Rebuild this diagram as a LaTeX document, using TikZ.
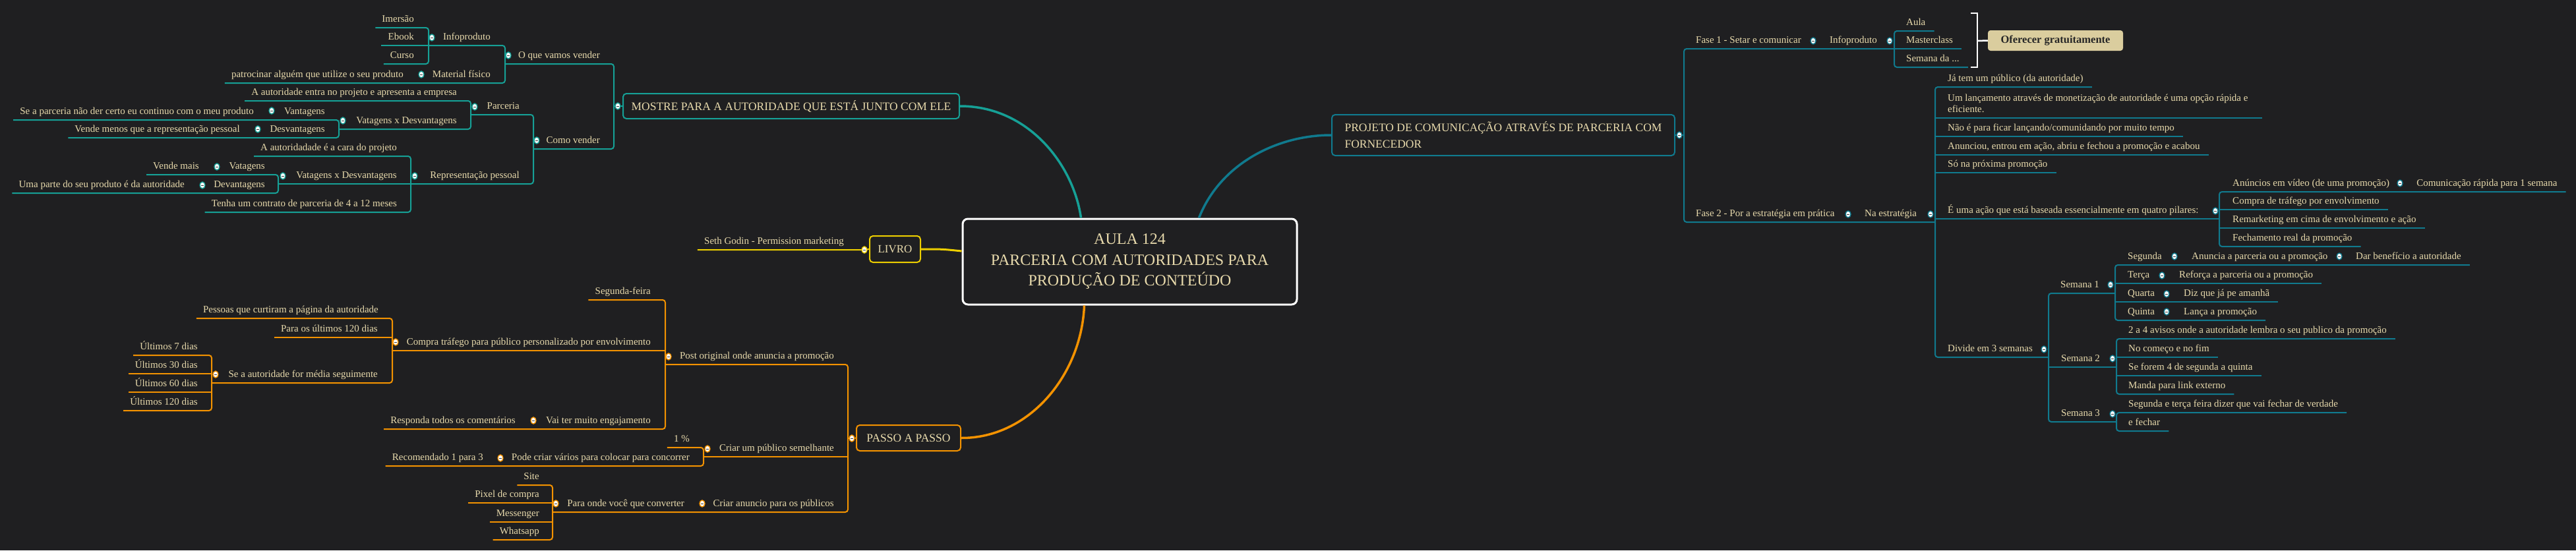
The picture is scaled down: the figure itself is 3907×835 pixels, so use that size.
\documentclass[tikz,border=0pt]{standalone}
\usepackage{fontspec}
\setmainfont{Liberation Serif}
\usetikzlibrary{calc,shapes.geometric}
\definecolor{bg}{RGB}{31,31,33}
\definecolor{fg}{RGB}{232,218,172}
\definecolor{cTL}{RGB}{22,160,150}
\definecolor{cTB}{RGB}{16,122,142}
\definecolor{cOR}{RGB}{243,146,0}
\definecolor{cYE}{RGB}{236,206,0}
\definecolor{cBEI}{RGB}{218,205,158}
\definecolor{cMin}{RGB}{60,60,60}
\newcommand\Lx[1]{($(#1.base west)+(-10,9)$)}
\newcommand\Rx[1]{($(#1.base east)+(13,9)$)}
\tikzset{
  txt/.style={text=fg, inner sep=0pt, font=\fontsize{15}{17}\selectfont},
  lt/.style={txt, anchor=base east},
  rt/.style={txt, anchor=base west},
  tl/.style={draw=cTL, line width=2pt},
  tb/.style={draw=cTB, line width=2pt},
  lorg/.style={draw=cOR, line width=2pt},
  lyel/.style={draw=cYE, line width=2pt},
  rc/.style={rounded corners=4pt},
  bigbox/.style={draw=#1, line width=2pt, rounded corners=5pt, fill=bg, text=fg,
     font=\fontsize{17.5}{25}\selectfont, inner xsep=12pt, inner ysep=0pt},
  knob/.style={ellipse, draw=#1, fill=white, line width=1.4pt, minimum width=8pt,
     minimum height=10pt, inner sep=0pt,
     path picture={\draw[cMin, line width=1pt]
       ([xshift=-2pt]path picture bounding box.center) -- ([xshift=2pt]path picture bounding box.center);}},
}
\begin{document}
\begin{tikzpicture}[x=1pt,y=-1pt]
\fill[bg] (0,0) rectangle (3907,835);
\useasboundingbox (0,0) rectangle (3907,835);

% ---------- main boxes ----------
\node[draw=white, line width=3pt, rounded corners=8pt, minimum width=507pt, minimum height=130pt,
      align=center, text=fg, font=\fontsize{24}{31.5}\selectfont, inner sep=0pt, fill=bg]
      (root) at (1713.5,397) {AULA 124\\PARCERIA COM AUTORIDADES PARA\\PRODUÇÃO DE CONTEÚDO};
\node[bigbox=cTL, minimum width=510pt, minimum height=38pt]
      (mostre) at (1200,161) {MOSTRE PARA A AUTORIDADE QUE ESTÁ JUNTO COM ELE};
\node[bigbox=cYE, minimum width=77pt, minimum height=40pt, inner xsep=0pt,
      font=\fontsize{17}{20}\selectfont] (livro) at (1357.5,378) {LIVRO};
\node[bigbox=cTB, minimum width=520pt, minimum height=62pt, align=left]
      (proj) at (2280,205) {PROJETO DE COMUNICAÇÃO ATRAVÉS DE PARCERIA COM\\FORNECEDOR};
\node[bigbox=cOR, minimum width=158pt, minimum height=39pt, inner xsep=0pt]
      (passo) at (1378,664.5) {PASSO A PASSO};
\node[fill=cBEI, rounded corners=4pt, minimum width=205pt, minimum height=31pt, inner sep=0pt,
      text=black!85, font=\bfseries\fontsize{16.5}{19}\selectfont] (ofer) at (3117.5,61.5) {Oferecer gratuitamente};

% ---------- main curves ----------
\draw[cTL, line width=3.5pt] (mostre.east) .. controls (1560,161) and (1628,250) .. ($(root.north west)+(181,0)$);
\draw[cTB, line width=3.5pt] ($(root.north west)+(360,0)$) .. controls (1850,250) and (1935,205) .. (proj.west);
\draw[cOR, line width=3.5pt] ($(root.south west)+(186,0)$) .. controls (1640,570) and (1560,665) .. (passo.east);
\draw[cYE, line width=3pt] (livro.east) .. controls (1430,378) .. ($(root.west)+(0,-16)$);

% ---------- LEFT (teal) ----------
\node[lt] (imersao) at (628,33) {Imersão};
\node[lt] (ebook) at (628,60) {Ebook};
\node[lt] (curso) at (628,88) {Curso};
\draw[tl, rc] \Lx{imersao} -- (650,42) -- (650,97) -- \Lx{curso};
\draw[tl] \Lx{ebook} -- (650,69);
\node[lt] (infop) at (744,60) {Infoproduto};
\node[lt] (patro) at (612,117) {patrocinar alguém que utilize o seu produto};
\node[lt] (matfis) at (744,117) {Material físico};
\draw[tl, rc] (650,69) -- (766,69) -- (766,126) -- \Lx{patro};
\node[lt] (oque) at (910,88) {O que vamos vender};
\node[lt] (comov) at (910,217) {Como vender};
\draw[tl, rc] (766,97) -- (931,97) -- (931,226) -- (809,226);
\draw[tl] (931,161) -- (mostre.west);

\node[lt] (autent) at (693,144) {A autoridade entra no projeto e apresenta a empresa};
\node[lt] (separc) at (385,173) {Se a parceria não der certo eu continuo com o meu produto};
\node[lt] (vant1) at (493,173) {Vantagens};
\node[lt] (vmenos) at (364,200) {Vende menos que a representação pessoal};
\node[lt] (desv1) at (493,200) {Desvantagens};
\draw[tl, rc] \Lx{separc} -- (514,182) -- (514,209) -- \Lx{vmenos};
\node[lt] (vxd1) at (693,187) {Vatagens x Desvantagens};
\draw[tl, rc] \Lx{autent} -- (714,153) -- (714,196) -- (514,196);
\node[lt] (parc) at (788,165) {Parceria};

\node[lt] (acara) at (602,228) {A autoridadade é a cara do projeto};
\node[lt] (vmais) at (302,256) {Vende mais};
\node[lt] (vat2) at (402,256) {Vatagens};
\node[lt] (umaparte) at (280,284) {Uma parte do seu produto é da autoridade};
\node[lt] (devant) at (402,284) {Devantagens};
\draw[tl, rc] \Lx{vmais} -- (422,265) -- (422,293) -- \Lx{umaparte};
\node[lt] (vxd2) at (602,270) {Vatagens x Desvantagens};
\node[lt] (tenha) at (602,313) {Tenha um contrato de parceria de 4 a 12 meses};
\draw[tl, rc] \Lx{acara} -- (623,237) -- (623,322) -- \Lx{tenha};
\draw[tl] (422,279) -- (623,279);
\node[lt] (repr) at (788,270) {Representação pessoal};
\draw[tl, rc] (714,174) -- (809,174) -- (809,279) -- (623,279);

% ---------- LIVRO (yellow) ----------
\node[lt] (seth) at (1280,370) {Seth Godin - Permission marketing};
\draw[lyel] \Lx{seth} -- (1311,379) -- (livro.west);

% ---------- PASSO A PASSO (orange) ----------
\node[lt] (post) at (1265,544) {Post original onde anuncia a promoção};
\node[lt] (criarpub) at (1265,684) {Criar um público semelhante};
\node[lt] (criaranu) at (1265,768) {Criar anuncio para os públicos};
\draw[lorg, rc] (1009,553) -- (1286,553) -- (1286,777) -- (838,777);
\draw[lorg] (1067,693) -- (1286,693);
\draw[lorg] (1286,665) -- (passo.west);

\node[lt] (segfeira) at (987,446) {Segunda-feira};
\node[lt] (compra) at (987,523) {Compra tráfego para público personalizado por envolvimento};
\node[lt] (vaiter) at (987,642) {Vai ter muito engajamento};
\node[lt] (responda) at (782,642) {Responda todos os comentários};
\draw[lorg, rc] \Lx{segfeira} -- (1009,455) -- (1009,651) -- \Lx{responda};
\draw[lorg] (595,532) -- (1009,532);

\node[lt] (pessoas) at (574,474) {Pessoas que curtiram a página da autoridade};
\node[lt] (para120) at (573,503) {Para os últimos 120 dias};
\node[lt] (seaut) at (573,572) {Se a autoridade for média seguimente};
\draw[lorg, rc] \Lx{pessoas} -- (595,483) -- (595,581) -- (321,581);
\draw[lorg] \Lx{para120} -- (595,512);
\node[lt] (u7) at (300,530) {Últimos 7 dias};
\node[lt] (u30) at (300,558) {Últimos 30 dias};
\node[lt] (u60) at (300,586) {Últimos 60 dias};
\node[lt] (u120) at (300,614) {Últimos 120 dias};
\draw[lorg, rc] \Lx{u7} -- (321,539) -- (321,623) -- \Lx{u120};
\draw[lorg] \Lx{u30} -- (321,567);
\draw[lorg] \Lx{u60} -- (321,595);

\node[lt] (one) at (1046,670) {1 \%};
\node[lt] (pode) at (1046,698) {Pode criar vários para colocar para concorrer};
\node[lt] (recom) at (733,698) {Recomendado 1 para 3};
\draw[lorg, rc] \Lx{one} -- (1067,679) -- (1067,707) -- \Lx{recom};

\node[lt] (paraonde) at (1038,768) {Para onde você que converter};
\node[lt] (site) at (818,727) {Site};
\node[lt] (pixel) at (818,754) {Pixel de compra};
\node[lt] (messenger) at (818,783) {Messenger};
\node[lt] (whats) at (818,810) {Whatsapp};
\draw[lorg, rc] \Lx{site} -- (838,736) -- (838,819) -- \Lx{whats};
\draw[lorg] \Lx{pixel} -- (838,763);
\draw[lorg] \Lx{messenger} -- (838,792);

% ---------- RIGHT (blue teal) ----------
\draw[tb, rc] (2873,74) -- (2554,74) -- (2554,337) -- (2935,337);
\draw[tb] (proj.east) -- (2554,205);
\node[rt] (fase1) at (2572,65) {Fase 1 - Setar e comunicar};
\node[rt] (info2) at (2775,65) {Infoproduto};
\node[rt] (aula) at (2891,38) {Aula};
\node[rt] (master) at (2891,65) {Masterclass};
\node[rt] (semana) at (2891,93) {Semana da ...};
\draw[tb, rc] \Rx{aula} -- (2873,47) -- (2873,102) -- \Rx{semana};
\draw[tb] (2873,74) -- \Rx{master};
\draw[white, line width=2.5pt] (2989,20) -- (2999,20) -- (2999,102) -- (2989,102);
\draw[white, line width=2.5pt] (2999,62) -- (ofer.west);

\node[rt] (fase2) at (2572,328) {Fase 2 - Por a estratégia em prática};
\node[rt] (naest) at (2828,328) {Na estratégia};
\node[rt] (jatem) at (2954,123) {Já tem um público (da autoridade)};
\node[txt, anchor=west, align=left] (umlanc) at (2954,157) {Um lançamento através de monetização de autoridade é uma opção rápida e\\eficiente.};
\node[rt] (naoe) at (2954,198) {Não é para ficar lançando/comunidando por muito tempo};
\node[rt] (anunciou) at (2954,226) {Anunciou, entrou em ação, abriu e fechou a promoção e acabou};
\node[rt] (sona) at (2954,253) {Só na próxima promoção};
\node[rt] (euma) at (2954,323) {É uma ação que está baseada essencialmente em quatro pilares:};
\node[rt] (divide) at (2954,533) {Divide em 3 semanas};
\draw[tb, rc] \Rx{jatem} -- (2935,132) -- (2935,542) -- (3107,542);
\draw[tb] (2935,179) -- (3431,179);
\draw[tb] (2935,207) -- \Rx{naoe};
\draw[tb] (2935,235) -- \Rx{anunciou};
\draw[tb] (2935,262) -- \Rx{sona};
\draw[tb] (2935,332) -- (3366,332);

\node[rt] (anuncvid) at (3386,282) {Anúncios em vídeo (de uma promoção)};
\node[rt] (comunic) at (3665,282) {Comunicação rápida para 1 semana};
\node[rt] (compratraf) at (3386,309) {Compra de tráfego por envolvimento};
\node[rt] (remark) at (3386,337) {Remarketing em cima de envolvimento e ação};
\node[rt] (fecham) at (3386,365) {Fechamento real da promoção};
\draw[tb, rc] \Rx{comunic} -- (3366,291) -- (3366,374) -- \Rx{fecham};
\draw[tb] (3366,318) -- \Rx{compratraf};
\draw[tb] (3366,346) -- \Rx{remark};

\draw[tb, rc] (3208,445) -- (3107,445) -- (3107,640) -- (3210,640);
\draw[tb] (3107,557) -- (3210,557);
\node[rt] (sem1) at (3125,436) {Semana 1};
\node[rt] (seg) at (3227,393) {Segunda};
\node[rt] (anuncia) at (3324,393) {Anuncia a parceria ou a promoção};
\node[rt] (darben) at (3573,393) {Dar benefício a autoridade};
\node[rt] (terca) at (3227,421) {Terça};
\node[rt] (reforca) at (3305,421) {Reforça a parceria ou a promoção};
\node[rt] (quarta) at (3227,449) {Quarta};
\node[rt] (diz) at (3312,449) {Diz que já pe amanhã};
\node[rt] (quinta) at (3227,477) {Quinta};
\node[rt] (lanca) at (3312,477) {Lança a promoção};
\draw[tb, rc] \Rx{darben} -- (3208,402) -- (3208,486) -- \Rx{lanca};
\draw[tb] (3208,430) -- \Rx{reforca};
\draw[tb] (3208,458) -- \Rx{diz};

\node[rt] (sem2) at (3126,548) {Semana 2};
\node[rt] (avisos) at (3228,505) {2 a 4 avisos onde a autoridade lembra o seu publico da promoção};
\node[rt] (comeco) at (3228,533) {No começo e no fim};
\node[rt] (seforem) at (3228,561) {Se forem 4 de segunda a quinta};
\node[rt] (manda) at (3228,589) {Manda para link externo};
\draw[tb, rc] \Rx{avisos} -- (3210,514) -- (3210,598) -- \Rx{manda};
\draw[tb] (3210,542) -- \Rx{comeco};
\draw[tb] (3210,570) -- \Rx{seforem};

\node[rt] (sem3) at (3126,631) {Semana 3};
\node[rt] (segter) at (3228,617) {Segunda e terça feira dizer que vai fechar de verdade};
\node[rt] (efechar) at (3228,645) {e fechar};
\draw[tb, rc] \Rx{segter} -- (3210,626) -- (3210,654) -- \Rx{efechar};

% ---------- collapse knobs ----------
\foreach \nm/\x/\y in {k1/655/57, k2/639/113, k3/771/84, k4/412/168, k5/391/196, k6/520/183,
   k7/720/162, k8/329/253, k9/307/281, k10/429/267, k11/629/267, k12/814/213, k13/937/161}
  \node[knob=cTL] (\nm) at (\x,\y) {};
\foreach \nm/\x/\y in {o1/1014/541, o2/600/519, o3/327/568, o4/809/638, o5/1073/681, o6/759/695,
   o7/1065/764, o8/843/764, o9/1292/665}
  \node[knob=cOR] (\nm) at (\x,\y) {};
\node[knob=cYE] (y1) at (1311,379) {};
\foreach \nm/\x/\y in {b1/2547/205, b2/2750/62, b3/2866/62, b4/2803/325, b5/2928/325, b6/3360/320,
   b7/3640/278, b8/3100/530, b9/3201/432, b10/3298/389, b11/3548/389, b12/3279/418, b13/3286/446,
   b14/3286/473, b15/3204/544, b16/3204/628}
  \node[knob=cTB] (\nm) at (\x,\y) {};
\end{tikzpicture}
\end{document}
